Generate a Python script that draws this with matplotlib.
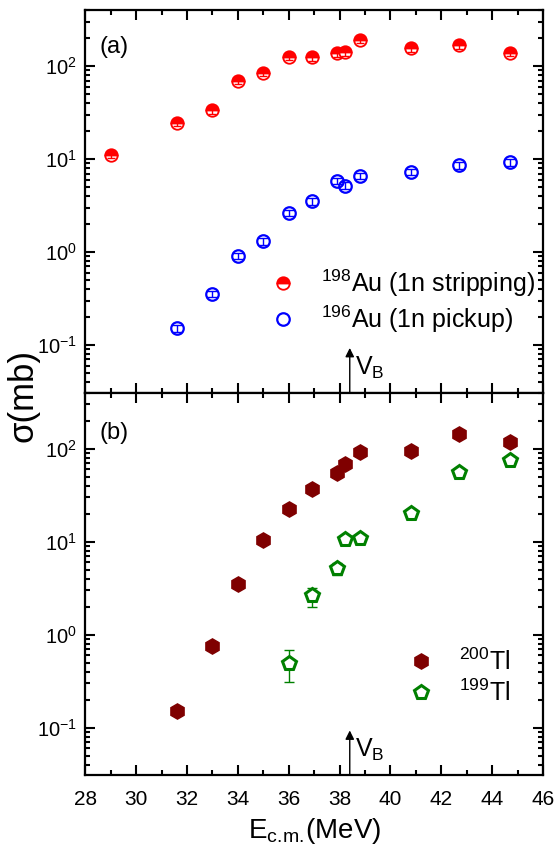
import numpy as np
import matplotlib
matplotlib.use("Agg")
import matplotlib.pyplot as plt
from matplotlib.ticker import LogLocator, MultipleLocator, NullFormatter

plt.rcParams['font.family'] = ['Liberation Sans', 'DejaVu Sans']
plt.rcParams['mathtext.fontset'] = 'custom'
plt.rcParams['mathtext.rm'] = 'Liberation Sans'
plt.rcParams['mathtext.it'] = 'Liberation Sans:italic'
plt.rcParams['axes.unicode_minus'] = False

# panel (a): 1n transfer channels
e_au198 = [29.0, 31.6, 33.0, 34.0, 35.0, 36.0, 36.9, 37.9, 38.2, 38.8, 40.8, 42.7, 44.7]
s_au198 = [11.2, 24.4, 33.4, 69.6, 84.8, 126, 124, 137, 141, 192, 156, 167, 139]
e_au196 = [31.6, 33.0, 34.0, 35.0, 36.0, 36.9, 37.9, 38.2, 38.8, 40.8, 42.7, 44.7]
s_au196 = [0.151, 0.353, 0.906, 1.31, 2.63, 3.52, 5.8, 5.2, 6.6, 7.3, 8.6, 9.2]

# panel (b): Tl isotopes
e_tl200 = [31.6, 33.0, 34.0, 35.0, 36.0, 36.9, 37.9, 38.2, 38.8, 40.8, 42.7, 44.7]
s_tl200 = [0.152, 0.76, 3.5, 10.5, 22.3, 36.6, 54.3, 67.9, 92, 95, 145, 119]
e_tl199 = [36.0, 36.9, 37.9, 38.2, 38.8, 40.8, 42.7, 44.7]
s_tl199 = [0.50, 2.65, 5.25, 10.6, 11.0, 20.4, 56.6, 76]
lo_tl199 = [0.31, 2.0, 4.4, 10.0, 10.4, 19.3, 53.5, 71.5]
hi_tl199 = [0.69, 3.2, 5.9, 11.2, 11.6, 21.5, 59.7, 80.5]

v_barrier = 38.4

fig, (ax1, ax2) = plt.subplots(2, 1, figsize=(5.57, 8.5), dpi=100, sharex=True)
fig.subplots_adjust(left=0.153, right=0.975, top=0.988, bottom=0.088, hspace=0)

red = '#ff0000'
blue = '#0000ff'
maroon = '#7f0000'
green = '#008000'

s198 = np.array(s_au198)
s196 = np.array(s_au196)
ax1.plot(e_au198, s_au198, 'o', ms=9, fillstyle='top', mfc=red, mfcalt='white',
         mec=red, mew=1.3, ls='none', zorder=3, label='$^{198}$Au (1n stripping)')
ax1.errorbar(e_au198, s_au198, yerr=0.08 * s198, fmt='none', ecolor=red,
             elinewidth=1, capsize=3, zorder=4)
ax1.plot(e_au196, s_au196, 'o', ms=9, mfc='none', mec=blue, mew=1.6,
         ls='none', zorder=3, label='$^{196}$Au (1n pickup)')
ax1.errorbar(e_au196, s_au196, yerr=0.08 * s196, fmt='none', ecolor=blue,
             elinewidth=1, capsize=3.5, zorder=4)

ax2.plot(e_tl200, s_tl200, 'h', ms=11, color=maroon, ls='none', zorder=3,
         label='$^{200}$Tl')
s199 = np.array(s_tl199)
yerr = [s199 - np.array(lo_tl199), np.array(hi_tl199) - s199]
ax2.errorbar(e_tl199, s_tl199, yerr=yerr, fmt='none', ecolor=green,
             elinewidth=1, capsize=3.5, zorder=2)
ax2.plot(e_tl199, s_tl199, 'p', ms=10, mfc='white', mec=green, mew=2.2,
         ls='none', zorder=3, label='$^{199}$Tl')

for ax in (ax1, ax2):
    ax.set_yscale('log')
    ax.set_ylim(0.0307, 400)
    ax.set_xlim(28, 46)
    ax.xaxis.set_major_locator(MultipleLocator(2))
    ax.xaxis.set_minor_locator(MultipleLocator(1))
    ax.yaxis.set_major_locator(LogLocator(base=10, numticks=10))
    ax.yaxis.set_minor_locator(LogLocator(base=10, subs=np.arange(2, 10), numticks=10))
    ax.yaxis.set_minor_formatter(NullFormatter())
    ax.tick_params(which='both', direction='in', top=True, right=True, width=1.5)
    ax.tick_params(axis='x', labelsize=15, pad=11)
    ax.tick_params(axis='y', labelsize=14.5, pad=6)
    ax.tick_params(which='major', length=7)
    ax.tick_params(which='minor', length=3.5)
    for sp in ax.spines.values():
        sp.set_linewidth(1.6)
    ax.annotate('', xy=(v_barrier, 0.117), xytext=(v_barrier, 0.0),
                xycoords=('data', 'axes fraction'),
                textcoords=('data', 'axes fraction'),
                arrowprops=dict(arrowstyle='-|>', color='black', lw=1,
                                mutation_scale=13, shrinkA=0, shrinkB=0))
    ax.text(v_barrier + 0.2, 0.065, 'V$_{\\mathregular{B}}$',
            transform=ax.get_xaxis_transform(), fontsize=18, va='center', ha='left')

ax1.tick_params(labelbottom=False)
ax1.text(0.031, 0.904, '(a)', transform=ax1.transAxes, fontsize=17, va='center')
ax2.text(0.031, 0.894, '(b)', transform=ax2.transAxes, fontsize=17, va='center')

ax1.legend(loc='center left', bbox_to_anchor=(0.405, 0.239), frameon=False,
           handlelength=1.0, handletextpad=1.0, labelspacing=0.2,
           borderpad=0, borderaxespad=0, fontsize=18, numpoints=1)
ax2.legend(loc='center left', bbox_to_anchor=(0.707, 0.256), frameon=False,
           handlelength=1.0, handletextpad=1.0, labelspacing=0.2,
           borderpad=0, borderaxespad=0, fontsize=18, numpoints=1)

ax2.set_xlabel('E$_{\\mathregular{c.\\!m.\\!}}$(MeV)', fontsize=20, labelpad=5)
fig.text(0.042, 0.535, 'σ(mb)', rotation=90, fontsize=25,
         va='center', ha='center')

fig.savefig('out.png', dpi=100)
